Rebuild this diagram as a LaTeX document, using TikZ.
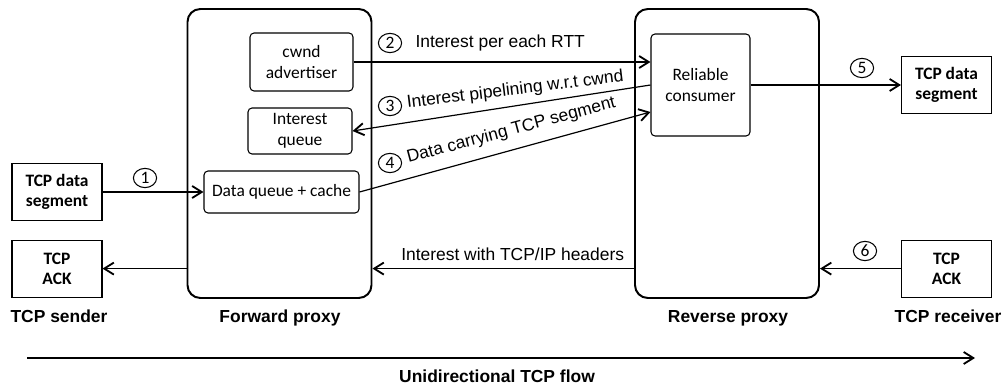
\documentclass[tikz,border=0pt]{standalone}
\usepackage{fontspec}
\setmainfont{Liberation Sans}
\newfontfamily\calfont{Carlito}
\usetikzlibrary{arrows.meta,shapes.geometric}
\begin{document}
\begin{tikzpicture}[x=1cm,y=1cm,line width=.85pt,font=\fontsize{12.4}{14.5}\selectfont,
  >={Straight Barb[length=2.4mm,width=3mm,line width=1.3pt]},
  proxy/.style={draw,line width=1.4pt,rounded corners=.32cm,minimum width=4.6cm,minimum height=7.225cm},
  unit/.style={draw,line width=.75pt,rounded corners=.1cm,align=center,inner sep=0pt,font=\calfont\fontsize{12.4}{14.5}\selectfont},
  host/.style={draw,line width=.75pt,align=center,inner sep=0pt,minimum width=2.25cm,minimum height=1.425cm,font=\calfont\bfseries\fontsize{12.4}{14.5}\selectfont},
  num/.style={ellipse,draw,line width=.75pt,inner sep=0pt,minimum width=.58cm,minimum height=.48cm,font=\calfont\fontsize{12.4}{14}\selectfont},
  caption/.style={anchor=base,font=\bfseries\fontsize{12.4}{14.5}\selectfont}]
\useasboundingbox (0,0) rectangle (25.125,9.675);
\node[proxy] (fwd) at (6.9875,5.8375) {};
\node[proxy] (rev) at (18.175,5.8375) {};
\node[unit,minimum width=2.575cm,minimum height=1.45cm] (cwnd) at (7.5375,8.125) {cwnd\\advertiser};
\node[unit,minimum width=2.6cm,minimum height=1.15cm] (iq) at (7.5,6.4) {Interest\\queue};
\node[unit,minimum width=3.875cm,minimum height=1.05cm] (dq) at (7.0375,4.875) {Data queue + cache};
\node[unit,minimum width=2.475cm,minimum height=2.55cm] (rc) at (17.5125,7.55) {Reliable\\consumer};
\node[host] (seg1) at (1.425,4.875) {TCP data\\segment};
\node[host] (ack1) at (1.425,2.96) {TCP\\ACK};
\node[host] (seg2) at (23.6625,7.55) {TCP data\\segment};
\node[host] (ack2) at (23.6625,2.96) {TCP\\ACK};
\node[caption] (snd) at (1.475,1.6) {TCP sender};
\node[caption] (fwdname) at (7,1.6) {Forward proxy};
\node[caption] (revname) at (18.2,1.6) {Reverse proxy};
\node[caption] (rcv) at (23.7,1.6) {TCP receiver};
\foreach \n/\x/\y in {1/3.625/5.225,2/9.75/8.6,3/9.75/7.025,4/9.75/5.6,5/21.55/7.975,6/21.625/3.4}
  \node[num] (n\n) at (\x,\y) {\n};
\node[anchor=west,inner sep=0pt] (l2) at (10.375,8.6) {Interest per each RTT};
\node[rotate=7,anchor=base west,inner sep=0pt] (l3) at (10.175,6.975) {Interest pipelining w.r.t cwnd};
\node[rotate=15,anchor=base west,inner sep=0pt] (l4) at (10.2,5.6) {Data carrying TCP segment};
\draw[->] (seg1) -- (dq);
\draw[->] (cwnd.east) -- (cwnd.east -| rc.west);
\draw[->] (rc.west) -- (iq.east);
\draw[->] (dq.east) -- ([yshift=-.675cm]rc.west);
\draw[->] (rc.east) -- (seg2.west);
\draw[->] (ack2.west) -- (ack2.west -| rev.east);
\draw[->] (ack2.west -| rev.west) -- node[pos=.464,above=2pt] (hdr) {Interest with TCP/IP headers} (ack2.west -| fwd.east);
\draw[->] (ack1.east -| fwd.west) -- (ack1.east);
\coordinate (flowstart) at (.675,.725);
\coordinate (flowend) at (24.375,.725);
\draw[->,line width=1.8pt] (flowstart) -- (flowend);
\node[caption] (flow) at (12.425,.1) {Unidirectional TCP flow};
\end{tikzpicture}
\end{document}
